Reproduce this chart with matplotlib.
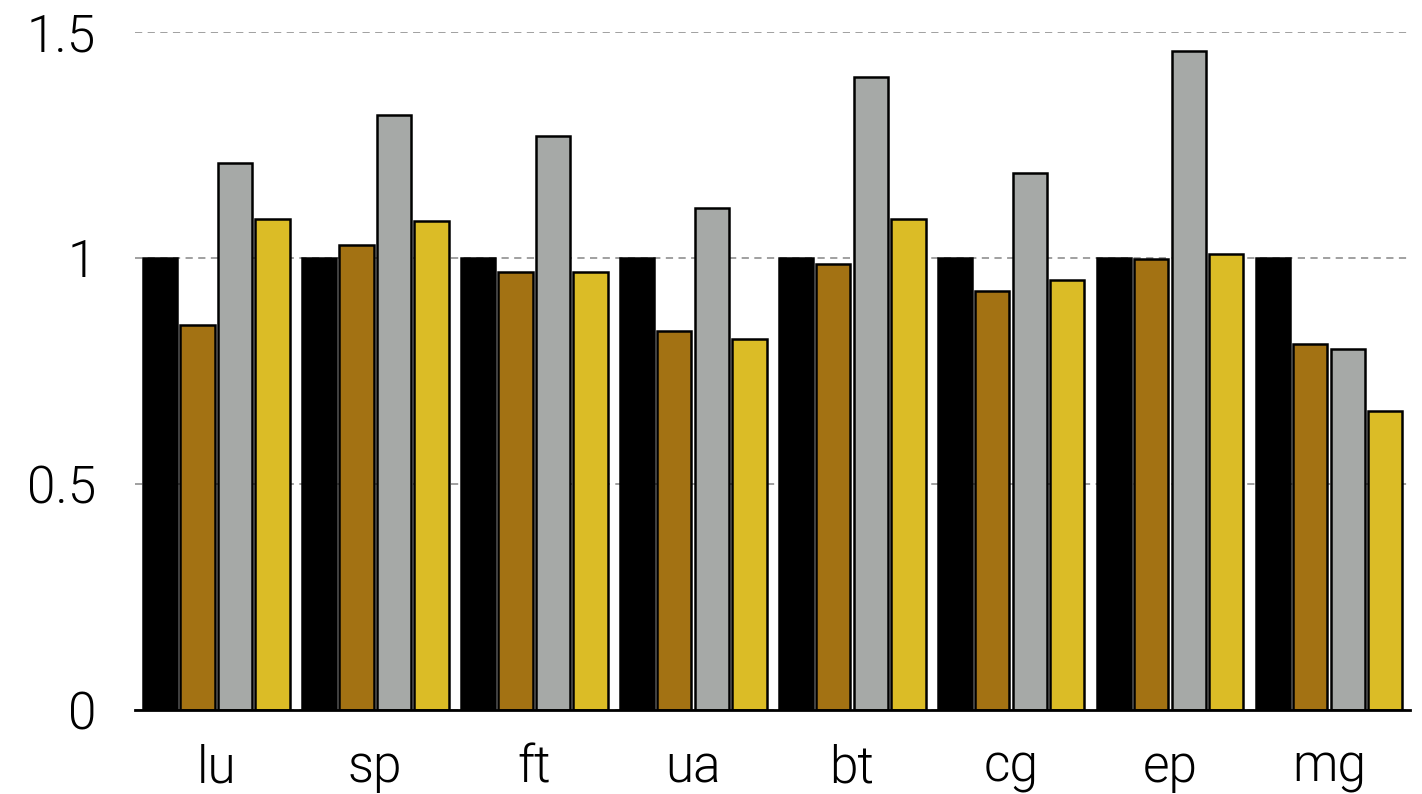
import numpy as np
import matplotlib.pyplot as plt

benchmarks = ['lu', 'sp', 'ft', 'ua', 'bt', 'cg', 'ep', 'mg']
series_a = [1.0, 1.0, 1.0, 1.0, 1.0, 1.0, 1.0, 1.0]
series_b = [0.852, 1.029, 0.969, 0.838, 0.987, 0.927, 0.998, 0.810]
series_c = [1.210, 1.316, 1.270, 1.111, 1.400, 1.188, 1.458, 0.799]
series_d = [1.086, 1.082, 0.969, 0.821, 1.086, 0.951, 1.009, 0.662]
yticks = [0, 0.5, 1, 1.5]
ytick_labels = ['0', '0.5', '1', '1.5']

colors = ['#000000', '#A37213', '#A6A9A7', '#DBBC26']

plt.rcParams['font.family'] = ['Roboto', 'DejaVu Sans']

fig = plt.figure(figsize=(14.22, 7.94), dpi=100)
ax = fig.add_axes([0.095, 0.1058, 0.8966, 0.8539])

x = np.arange(len(benchmarks))
pitch = 0.236
width = 0.216
for i, (vals, c) in enumerate(zip([series_a, series_b, series_c, series_d], colors)):
    ax.bar(x + (i - 1.5) * pitch, vals, width, color=c, edgecolor='black',
           linewidth=1.8, zorder=3)

ax.set_xlim(-0.51, len(benchmarks) - 0.49)
ax.set_ylim(0, 1.5)
ax.set_yticks(yticks)
ax.set_yticklabels(ytick_labels)
ax.set_xticks(x)
ax.set_xticklabels(benchmarks)
ax.tick_params(axis='both', length=0, labelsize=37)
ax.tick_params(axis='y', pad=28)
ax.tick_params(axis='x', pad=24)
for lab in ax.get_xticklabels() + ax.get_yticklabels():
    lab.set_fontweight(300)

ax.yaxis.grid(True, color='#999999', linestyle=(0, (4, 3)), linewidth=1.3, zorder=0)
ax.set_axisbelow(True)
for side in ['left', 'right', 'top']:
    ax.spines[side].set_visible(False)
ax.spines['bottom'].set_linewidth(2)
ax.spines['bottom'].set_zorder(4)

plt.savefig('out.png', dpi=100)
